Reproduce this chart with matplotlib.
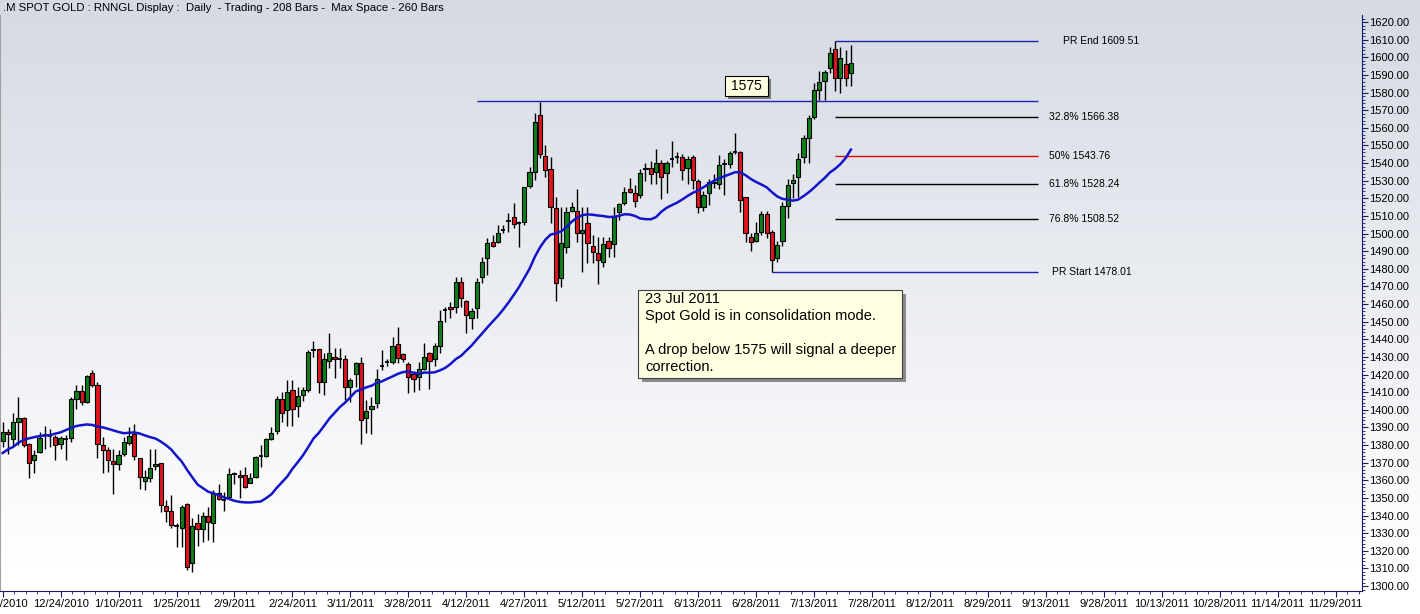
import numpy as np
import pandas as pd
import matplotlib
matplotlib.use("Agg")
import matplotlib.pyplot as plt
from matplotlib.patches import Rectangle
from matplotlib import transforms

plt.rcParams['font.family'] = ['Liberation Sans', 'DejaVu Sans']

title = ".M SPOT GOLD : RNNGL Display :  Daily  - Trading - 208 Bars -  Max Space - 260 Bars"
first_day = "2010-12-09"
max_space = 260

# daily OHLC, 12/9/2010 .. 7/22/2011
opens = [1382.3, 1387.5, 1383.4, 1393.2, 1395.1, 1380.6, 1371.5, 1376.2, 1385.5, 1385.0,
         1384.4, 1380.6, 1383.5, 1383.8, 1405.9, 1410.6, 1404.2, 1420.7, 1414.0, 1380.0,
         1377.2, 1370.9, 1369.0, 1374.9, 1381.3, 1386.2, 1372.4, 1359.5, 1361.1, 1368.0,
         1369.6, 1345.4, 1342.6, 1334.2, 1332.7, 1346.3, 1312.9, 1335.9, 1332.2, 1339.9,
         1336.0, 1353.0, 1348.6, 1350.5, 1363.3, 1363.0, 1363.0, 1358.6, 1362.0, 1373.4,
         1374.0, 1383.6, 1388.1, 1406.1, 1399.9, 1411.2, 1402.1, 1408.4, 1411.2, 1434.0,
         1434.3, 1416.0, 1427.8, 1430.1, 1428.6, 1428.6, 1412.7, 1420.3, 1426.7, 1395.1,
         1400.2, 1403.6, 1424.5, 1427.0, 1427.3, 1437.3, 1431.6, 1425.8, 1420.3, 1418.4,
         1422.9, 1432.4, 1428.6, 1436.2, 1456.6, 1458.5, 1458.5, 1472.7, 1461.5, 1452.0,
         1457.5, 1475.1, 1485.9, 1495.0, 1495.4, 1502.0, 1507.0, 1509.2, 1506.0, 1506.3,
         1527.1, 1535.1, 1567.2, 1544.0, 1536.4, 1514.3, 1474.6, 1492.5, 1512.8, 1512.8,
         1500.1, 1505.8, 1492.9, 1488.7, 1484.0, 1495.9, 1494.0, 1512.0, 1517.1, 1525.3,
         1522.8, 1521.8, 1536.4, 1537.4, 1534.7, 1539.8, 1534.1, 1542.0, 1543.2, 1543.2,
         1537.0, 1543.2, 1529.8, 1514.8, 1523.2, 1528.5, 1528.1, 1539.2, 1539.4, 1546.4,
         1546.4, 1520.5, 1498.2, 1495.9, 1501.0, 1510.9, 1500.7, 1486.3, 1495.6, 1515.6,
         1528.4, 1531.9, 1543.6, 1554.0, 1565.9, 1581.4, 1586.7, 1593.7, 1604.5, 1588.0,
         1596.0, 1590.9]
highs = [1393.0, 1389.0, 1398.0, 1407.0, 1396.0, 1381.0, 1377.0, 1387.6, 1391.0, 1389.0,
         1385.7, 1385.0, 1385.7, 1407.5, 1414.0, 1414.0, 1419.7, 1422.5, 1416.0, 1384.7,
         1379.0, 1378.0, 1377.0, 1384.5, 1390.0, 1391.9, 1372.5, 1365.8, 1378.0, 1377.5,
         1370.0, 1348.8, 1351.6, 1336.0, 1346.0, 1347.0, 1338.5, 1341.0, 1342.0, 1345.0,
         1354.5, 1357.8, 1353.5, 1366.8, 1364.9, 1365.8, 1367.7, 1363.9, 1373.7, 1380.0,
         1384.0, 1390.4, 1408.0, 1410.3, 1417.1, 1417.1, 1413.1, 1413.0, 1433.9, 1439.0,
         1434.5, 1432.4, 1443.5, 1435.0, 1435.0, 1431.0, 1418.0, 1427.0, 1430.1, 1405.5,
         1407.4, 1423.0, 1433.9, 1429.0, 1441.1, 1446.8, 1432.0, 1427.3, 1422.0, 1427.3,
         1437.7, 1433.0, 1437.7, 1456.6, 1458.5, 1461.3, 1475.1, 1475.1, 1462.5, 1458.0,
         1474.6, 1486.9, 1497.3, 1499.1, 1504.8, 1504.8, 1511.4, 1517.1, 1507.0, 1526.6,
         1537.9, 1568.2, 1574.8, 1550.2, 1543.6, 1520.9, 1515.2, 1515.2, 1518.1, 1525.3,
         1515.2, 1515.2, 1499.1, 1498.2, 1498.2, 1498.2, 1515.2, 1517.5, 1526.6, 1531.3,
         1527.5, 1536.4, 1540.0, 1541.0, 1548.0, 1542.0, 1541.0, 1552.3, 1546.0, 1545.0,
         1544.0, 1544.5, 1531.0, 1524.0, 1531.0, 1534.0, 1544.5, 1542.5, 1547.0, 1556.9,
         1547.0, 1521.0, 1500.5, 1506.3, 1513.0, 1513.0, 1502.0, 1496.0, 1518.0, 1531.0,
         1534.0, 1545.5, 1556.0, 1567.0, 1585.5, 1592.0, 1593.0, 1606.0, 1609.5, 1606.0,
         1604.0, 1606.8]
lows = [1379.0, 1375.0, 1380.0, 1380.0, 1379.0, 1361.1, 1364.0, 1375.3, 1378.0, 1379.0,
        1371.5, 1378.0, 1371.5, 1382.0, 1400.2, 1403.0, 1403.6, 1413.0, 1372.4, 1364.0,
        1364.9, 1352.2, 1366.0, 1374.0, 1380.0, 1371.5, 1354.8, 1354.5, 1359.2, 1366.0,
        1342.2, 1336.5, 1333.2, 1322.3, 1322.3, 1309.0, 1307.8, 1322.5, 1325.2, 1326.0,
        1325.2, 1348.8, 1342.5, 1350.3, 1357.9, 1350.1, 1355.4, 1358.2, 1361.1, 1367.7,
        1373.0, 1382.8, 1386.0, 1392.9, 1391.0, 1390.9, 1395.9, 1405.0, 1410.0, 1430.0,
        1409.3, 1408.5, 1423.6, 1418.0, 1424.0, 1405.5, 1404.6, 1413.0, 1380.6, 1386.6,
        1386.1, 1401.0, 1422.6, 1425.0, 1426.0, 1426.3, 1427.0, 1409.7, 1410.3, 1411.2,
        1422.6, 1411.6, 1425.0, 1432.0, 1450.0, 1452.0, 1455.0, 1458.5, 1443.4, 1446.0,
        1452.0, 1471.7, 1476.5, 1492.5, 1494.4, 1500.1, 1501.0, 1503.0, 1492.5, 1505.0,
        1526.0, 1530.4, 1542.6, 1532.2, 1505.8, 1462.0, 1469.8, 1488.7, 1512.0, 1495.4,
        1478.3, 1483.1, 1483.1, 1471.3, 1481.2, 1486.9, 1486.9, 1507.7, 1516.2, 1522.8,
        1515.2, 1520.0, 1530.0, 1528.0, 1528.0, 1519.6, 1522.8, 1538.0, 1540.0, 1530.3,
        1528.0, 1525.0, 1511.5, 1513.0, 1516.0, 1526.0, 1525.0, 1522.0, 1537.0, 1545.0,
        1512.5, 1495.0, 1489.9, 1495.0, 1499.0, 1497.3, 1478.0, 1484.0, 1493.0, 1509.0,
        1520.0, 1521.0, 1540.0, 1540.0, 1565.0, 1576.0, 1576.0, 1591.0, 1581.0, 1580.0,
        1583.9, 1584.0]
closes = [1387.6, 1386.5, 1392.9, 1395.5, 1380.0, 1369.6, 1374.3, 1383.8, 1385.8, 1385.3,
          1380.0, 1383.8, 1383.9, 1405.9, 1410.6, 1404.2, 1419.1, 1414.0, 1380.6, 1377.2,
          1371.5, 1369.0, 1374.3, 1381.5, 1385.1, 1373.6, 1361.7, 1362.0, 1366.8, 1369.4,
          1346.0, 1342.6, 1334.4, 1334.0, 1345.0, 1311.0, 1334.3, 1332.2, 1339.9, 1336.5,
          1352.6, 1349.2, 1348.8, 1363.4, 1363.6, 1361.7, 1356.0, 1361.1, 1373.0, 1374.3,
          1383.4, 1386.6, 1405.9, 1398.0, 1409.9, 1400.2, 1408.0, 1411.2, 1433.0, 1434.3,
          1416.0, 1428.6, 1432.0, 1428.6, 1429.0, 1413.1, 1416.9, 1426.3, 1394.2, 1399.3,
          1402.1, 1417.3, 1425.0, 1427.3, 1436.2, 1429.2, 1428.6, 1418.8, 1417.3, 1422.9,
          1429.7, 1427.9, 1436.2, 1450.4, 1456.9, 1457.0, 1472.7, 1463.2, 1453.8, 1456.0,
          1472.7, 1484.0, 1494.4, 1493.1, 1500.1, 1502.2, 1507.2, 1505.2, 1506.3, 1526.2,
          1534.7, 1563.1, 1544.9, 1536.0, 1515.2, 1471.7, 1494.4, 1512.0, 1514.9, 1500.1,
          1502.0, 1494.4, 1489.3, 1485.0, 1494.0, 1491.6, 1509.2, 1516.6, 1523.7, 1523.7,
          1518.4, 1534.1, 1537.4, 1533.8, 1539.8, 1531.9, 1539.8, 1542.3, 1543.5, 1536.0,
          1542.1, 1530.3, 1514.8, 1521.8, 1529.4, 1529.5, 1538.9, 1539.4, 1545.5, 1546.6,
          1519.0, 1500.1, 1495.0, 1500.1, 1510.9, 1500.1, 1485.0, 1493.5, 1515.6, 1527.4,
          1530.4, 1542.4, 1554.0, 1565.4, 1581.4, 1586.2, 1591.4, 1602.6, 1588.0, 1599.4,
          1588.0, 1596.5]

ma_early = [1375.5, 1377.5, 1379.0, 1381.3, 1383.0, 1383.8, 1384.5, 1385.1, 1385.4, 1385.6,
            1386.5, 1387.2, 1388.5, 1389.7, 1390.8, 1391.3, 1391.7, 1391.4, 1390.5]
ma_len = 20

key_level = 1575
key_from = 89
pr_end = 1609.51
pr_start = 1478.01
fib_names = ["32.8%", "50%", "61.8%", "76.8%"]
fib_levels = [1566.38, 1543.76, 1528.24, 1508.52]
fib_colors = ["black", "#e00000", "black", "black"]
levels_to = 195.5

note_lines = ["23 Jul 2011",
              "Spot Gold is in consolidation mode.",
              "",
              "A drop below 1575 will signal a deeper",
              "correction."]

W, H = 1420, 614
def fx(x):
    return x / W
def fy(y):
    return 1 - y / H

o = np.array(opens); h = np.array(highs); l = np.array(lows); c = np.array(closes)
x = np.arange(len(o)) - 1
ma = pd.Series(c).rolling(ma_len).mean().to_numpy()
ma[:len(ma_early)] = ma_early

fig = plt.figure(figsize=(W / 100, H / 100), dpi=100)

# background gradient
bg = fig.add_axes([0, 0, 1, 1], zorder=-10)
grad = np.linspace(0, 1, 300)[:, None]
top = np.array([0.835, 0.855, 0.89])
col = top + (1 - top) * np.clip(grad / 0.92, 0, 1)
bg.imshow(col[:, None, :].repeat(2, axis=1), aspect='auto', extent=[0, 1, 0, 1])
bg.set_axis_off()

ax = fig.add_axes([0, fy(591), 1362 / W, (591 - 15) / H])
ax.patch.set_alpha(0)
ax.set_xlim(-1.5, 257.0)
ax.set_ylim(1297.2, 1624.0)

# candles
up = c >= o
body = np.abs(c - o)
bottom = np.minimum(o, c)
colors = np.where(up, '#0f7f1c', '#e2141c')
ax.vlines(x, l, h, color='black', lw=1, zorder=2)
big = body >= 0.9
ax.bar(x[big], body[big], bottom=bottom[big], width=0.8, color=colors[big],
       edgecolor='black', linewidth=0.8, zorder=3)
ax.hlines(((o + c) / 2)[~big], x[~big] - 0.4, x[~big] + 0.4, color='black', lw=1.3, zorder=3)

ax.plot(x, ma, color='#1414c8', lw=1.8, zorder=4)

# level lines
peak = x[np.argmax(h)]
low_i = x[len(l) - 30 + np.argmin(l[-30:])]
ax.hlines(key_level, key_from, levels_to, color='#2222b0', lw=1, zorder=1)
ax.hlines(pr_end, peak, levels_to, color='#2222b0', lw=1, zorder=1)
ax.hlines(pr_start, low_i, levels_to, color='#2222b0', lw=1, zorder=1)
for lv, cc in zip(fib_levels, fib_colors):
    ax.hlines(lv, peak, levels_to, color=cc, lw=1, zorder=1)

tr = transforms.blended_transform_factory(fig.transFigure, ax.transData)
ax.text(fx(1063), pr_end, f"PR End {pr_end:.2f}", transform=tr, fontsize=7.5, va='center')
for name, lv in zip(fib_names, fib_levels):
    ax.text(fx(1049), lv, f"{name} {lv:.2f}", transform=tr, fontsize=7.5, va='center')
ax.text(fx(1052), pr_start, f"PR Start {pr_start:.2f}", transform=tr, fontsize=7.5, va='center')

# axes styling
navy = '#1a1a70'
ax.spines['top'].set_visible(False)
ax.spines['left'].set_color('#a0a0a0')
ax.spines['right'].set_color(navy)
ax.spines['bottom'].set_color(navy)
ax.yaxis.tick_right()
ax.set_yticks(np.arange(1300, 1621, 10))
ax.set_yticks(np.arange(1298, 1624, 2), minor=True)
ax.yaxis.set_major_formatter(plt.FuncFormatter(lambda v, p: f"{v:.2f}"))
ax.tick_params(axis='y', which='major', length=4, color=navy, labelsize=8, pad=1)
ax.tick_params(axis='y', which='minor', length=2, color=navy)

all_days = pd.bdate_range(first_day, periods=max_space)
xt = np.arange(-1, 257, 11)
ax.set_xticks(xt)
ax.set_xticklabels([f"{d.month}/{d.day}/{d.year}" for d in all_days[xt + 1]])
ax.set_xticks(np.arange(-1, 257, 2.2), minor=True)
ax.tick_params(axis='x', which='major', length=4, color=navy, labelsize=8, pad=2)
ax.tick_params(axis='x', which='minor', length=2, color=navy)

fig.text(fx(3), fy(8), title, fontsize=8.2, va='center')

# "1575" label box
fig.patches.append(Rectangle((fx(728), fy(99)), fx(43), 20 / H, transform=fig.transFigure,
                             facecolor='#7a7a7a', edgecolor='none', zorder=5))
fig.patches.append(Rectangle((fx(725), fy(96)), fx(43), 20 / H, transform=fig.transFigure,
                             facecolor='#ffffe1', edgecolor='black', lw=0.8, zorder=6))
fig.text(fx(746.5), fy(86), str(key_level), fontsize=10, ha='center', va='center', zorder=7)

# note box
fig.patches.append(Rectangle((fx(642), fy(382)), fx(264), 88 / H, transform=fig.transFigure,
                             facecolor='#8a8a8a', edgecolor='none', zorder=5))
fig.patches.append(Rectangle((fx(638), fy(378)), fx(264), 88 / H, transform=fig.transFigure,
                             facecolor='#ffffe1', edgecolor='#404040', lw=0.8, zorder=6))
fig.text(fx(645), fy(292), "\n".join(note_lines), fontsize=10.5, ha='left', va='top',
         linespacing=1.27, zorder=7)

fig.savefig("out.png", dpi=100)
